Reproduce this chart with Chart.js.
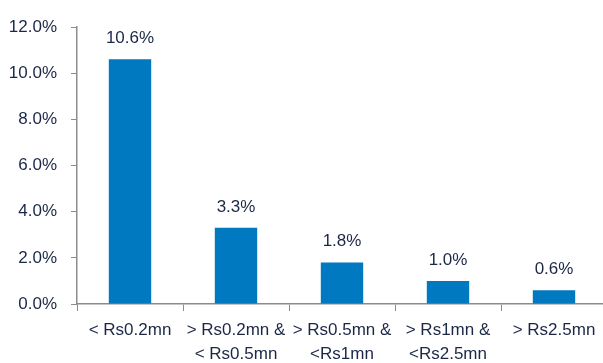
<!DOCTYPE html>
<html>
<head>
<meta charset="utf-8">
<script src="https://cdn.jsdelivr.net/npm/chart.js@4/dist/chart.umd.min.js"></script>
<style>
    html, body { margin: 0; padding: 0; background: #fff; overflow: hidden; }
    #wrap { width: 612px; height: 363px; }
</style>
</head>
<body>
<div id="wrap"><canvas id="bucketChart" width="612" height="363"></canvas></div>
<script>
// Catégories et valeurs
const categories = [
    ['< Rs0.2mn'],
    ['> Rs0.2mn &', '< Rs0.5mn'],
    ['> Rs0.5mn &', '<Rs1mn'],
    ['> Rs1mn &', '<Rs2.5mn'],
    ['> Rs2.5mn']
];
const shares = [10.6, 3.3, 1.8, 1.0, 0.6];
const yTicks = [0, 2, 4, 6, 8, 10, 12];

const textColor = '#1a2745';
const axisColor = '#8c8c8c';
const barColor = '#0079c1';

Chart.defaults.font.family = "'Liberation Sans', Arial, sans-serif";
Chart.defaults.font.size = 17;
Chart.defaults.color = textColor;

// Étiquettes de valeur au-dessus des barres
const valueLabels = {
    id: 'valueLabels',
    afterDatasetsDraw(chart) {
        const ctx = chart.ctx;
        const meta = chart.getDatasetMeta(0);
        ctx.save();
        ctx.fillStyle = textColor;
        ctx.font = "17px 'Liberation Sans', Arial, sans-serif";
        ctx.textAlign = 'center';
        ctx.textBaseline = 'alphabetic';
        meta.data.forEach((bar, i) => {
            ctx.fillText(shares[i].toFixed(1) + '%', bar.x, bar.y - 16);
        });
        ctx.restore();
    }
};

new Chart(document.getElementById('bucketChart'), {
    type: 'bar',
    data: {
        labels: categories,
        datasets: [{
            data: shares,
            backgroundColor: barColor,
            borderWidth: 0,
            categoryPercentage: 0.4,
            barPercentage: 1
        }]
    },
    options: {
        responsive: false,
        animation: false,
        layout: { padding: { top: 27, left: 0, right: 5, bottom: 0 } },
        plugins: {
            legend: { display: false },
            tooltip: { enabled: false }
        },
        scales: {
            x: {
                afterFit: axis => {
                    axis.height = 59;
                    axis.paddingLeft = 0;
                    axis.paddingRight = 0;
                },
                grid: {
                    offset: true,
                    drawOnChartArea: false,
                    drawTicks: true,
                    tickLength: 7,
                    color: axisColor
                },
                border: { color: axisColor, width: 1.5 },
                ticks: {
                    padding: 8,
                    maxRotation: 0,
                    autoSkip: false,
                    font: { size: 17, lineHeight: 1.38 }
                }
            },
            y: {
                min: 0,
                max: 12,
                afterBuildTicks: axis => {
                    axis.ticks = yTicks.map(v => ({ value: v }));
                },
                afterFit: axis => {
                    axis.width = 77;
                    axis.paddingTop = 0;
                    axis.paddingBottom = 0;
                },
                grid: {
                    drawOnChartArea: false,
                    drawTicks: true,
                    tickLength: 6,
                    color: axisColor
                },
                border: { color: axisColor, width: 1.5 },
                ticks: {
                    padding: 14,
                    callback: v => v.toFixed(1) + '%'
                }
            }
        }
    },
    plugins: [valueLabels]
});
</script>
</body>
</html>
